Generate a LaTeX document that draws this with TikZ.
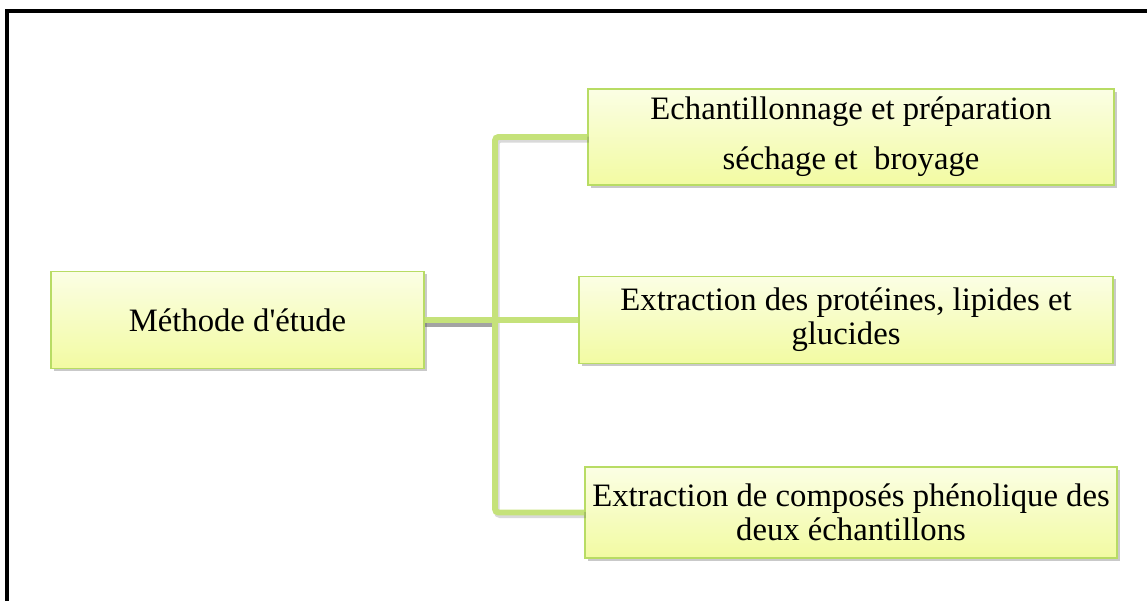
\documentclass[tikz,border=0pt]{standalone}
\usepackage{fontspec}
\setmainfont{Liberation Serif}
\usetikzlibrary{positioning,shadows}
\definecolor{leafgreen}{RGB}{197,226,122}
\definecolor{boxedge}{RGB}{184,220,100}
\definecolor{paleyellow}{RGB}{251,254,228}
\definecolor{lemon}{RGB}{242,251,162}

\begin{document}
\begin{tikzpicture}[
    box/.style={draw=boxedge, line width=1pt, top color=paleyellow, bottom color=lemon, align=center, font=\fontsize{18.6}{19.5}\selectfont, inner sep=2pt, drop shadow={shadow xshift=1.5pt, shadow yshift=-1.5pt, opacity=0.3, fill=black!70}},
    link/.style={draw=leafgreen, line width=3.4pt, rounded corners=2pt},
    linkshade/.style={draw=black!60, line width=3.4pt, opacity=0.25, rounded corners=2pt},
    frame/.style={draw, line width=2.2pt}
]
\useasboundingbox (0,0) rectangle (22.94,12);
\draw[frame] (0.14,-0.5) rectangle (23.5,11.78);

\node[box, minimum width=7.46cm, minimum height=1.94cm] (method) at (4.75,5.6) {Méthode d\textquotesingle étude};
\node[box, minimum width=10.52cm, minimum height=1.92cm] (prep) at (17.02,9.26) {Echantillonnage et préparation\\[9pt]séchage et~ broyage};
\node[box, minimum width=10.68cm, minimum height=1.74cm] (extr) at (16.92,5.6) {Extraction des protéines, lipides et\\glucides};
\node[box, minimum width=10.64cm, minimum height=1.82cm] (phen) at (17.02,1.75) {Extraction de composés phénolique des\\deux échantillons};

\coordinate (hub) at (9.9,5.6);

% shadows under the links
\draw[linkshade] ([shift={(1pt,-1.5pt)}]prep.west) -| ([shift={(1pt,-1.5pt)}]hub) |- ([shift={(1pt,-1.5pt)}]phen.west);
\draw[linkshade, opacity=0.6] ([yshift=-2pt]method.east) -- ([yshift=-2pt]hub);

\draw[link] (prep.west) -| (hub) |- (phen.west);
\draw[link] (method.east) -- (hub) -- (extr.west);
\end{tikzpicture}
\end{document}
